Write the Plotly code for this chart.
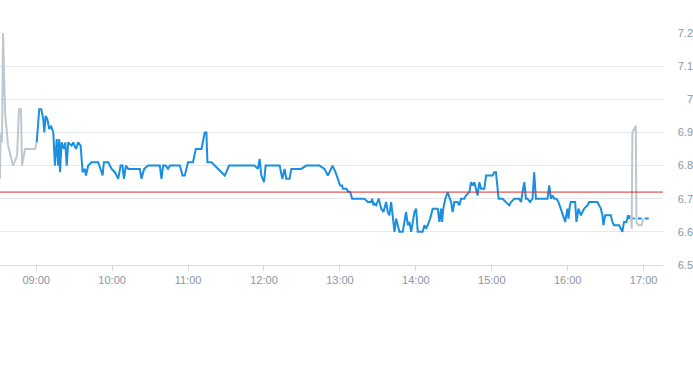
import pandas as pd
import plotly.graph_objects as go

DAY = "2024-01-02"
OPEN = pd.Timestamp(f"{DAY} 09:00")

# minutes relative to 09:00 and prices
pre_minutes = [-28.6, -28.2, -27.4, -27.0, -26.2, -24.6, -22.2, -20.7, -18.3, -15.1,
               -13.6, -12.0, -11.2, -8.8, -0.9, 0.4]
pre_prices = [6.76, 6.88, 6.90, 6.87, 7.20, 6.96, 6.86, 6.84, 6.80, 6.83,
              6.97, 6.97, 6.80, 6.85, 6.85, 6.87]

main_minutes = [
    0.4, 2.4, 4.0, 5.6, 6.4, 7.5, 8.8, 10.3, 11.7, 13.5, 14.8, 16.2, 17.4, 18.2, 18.8,
    20.1, 21.9, 23.0, 24.1, 25.3, 28.0, 29.3, 31.4, 33.2, 35.1, 36.7, 38.5, 39.3, 41.1,
    43.8, 46.4, 49.0, 52.5, 53.5, 56.9, 59.6, 62.2, 64.8, 66.7, 68.2, 69.3, 70.9, 72.7,
    81.9, 83.2, 85.3, 88.4, 97.7, 99.0, 100.3, 102.4, 104.2, 105.6, 113.5, 115.6, 117.4,
    120.0, 123.9, 126.1, 130.6, 133.2, 134.5, 135.3, 138.5, 141.1, 143.7, 146.4, 149.0,
    150.3, 152.4, 172.6, 175.2, 176.6, 177.9, 180.0, 181.3, 192.4, 194.5, 196.3, 197.6,
    200.2, 201.6, 209.5, 213.4, 223.9, 227.8, 230.5, 233.1, 234.2, 236.5, 238.4, 240.2,
    241.8, 242.3, 245.0, 247.0, 248.1, 249.7, 256.8, 259.4, 262.0, 264.7, 265.5, 266.5,
    267.3, 268.6, 270.7, 272.6, 274.4, 276.5, 277.8, 279.1, 280.5, 281.7, 283.1, 284.4,
    285.7, 287.0, 289.6, 291.0, 292.3, 293.6, 294.9, 296.3, 298.9, 300.2, 301.5, 305.4,
    306.8, 308.1, 309.4, 311.3, 313.3, 317.3, 318.6, 319.9, 320.7, 321.7, 323.3, 325.1,
    326.5, 327.8, 329.1, 330.4, 333.0, 334.4, 335.7, 338.3, 339.7, 342.3, 343.6, 344.9,
    346.2, 347.6, 348.8, 350.2, 351.5, 354.1, 355.5, 360.7, 362.0, 363.3, 365.4, 368.5,
    371.2, 373.8, 375.2, 377.8, 381.7, 383.1, 384.3, 385.7, 387.0, 388.3, 390.2, 392.2,
    393.5, 394.9, 404.0, 405.4, 406.7, 408.0, 409.3, 411.1, 412.7, 414.6, 416.4, 418.0,
    419.8, 420.6, 421.7, 422.5, 425.9, 426.9, 428.5, 430.4, 433.0, 435.6, 436.9, 443.5,
    446.2, 447.4, 448.2, 449.6, 454.1, 455.3, 456.6, 460.6, 461.9, 463.2, 464.5, 466.4,
    467.7, 468.5, 469.8]
main_prices = [
    6.87, 6.97, 6.97, 6.94, 6.90, 6.95, 6.94, 6.91, 6.92, 6.90, 6.80, 6.88, 6.80, 6.88, 6.78,
    6.87, 6.85, 6.87, 6.80, 6.87, 6.86, 6.87, 6.85, 6.87, 6.86, 6.78, 6.79, 6.77, 6.80,
    6.81, 6.81, 6.81, 6.77, 6.81, 6.81, 6.79, 6.78, 6.76, 6.80, 6.80, 6.76, 6.80, 6.79,
    6.79, 6.76, 6.79, 6.80, 6.80, 6.76, 6.80, 6.80, 6.79, 6.80, 6.80, 6.77, 6.77,
    6.81, 6.81, 6.85, 6.85, 6.90, 6.90, 6.81, 6.81, 6.80, 6.79, 6.78, 6.77,
    6.78, 6.80, 6.80, 6.79, 6.82, 6.77, 6.75, 6.80, 6.80, 6.76, 6.79, 6.76,
    6.76, 6.79, 6.79, 6.80, 6.80, 6.79, 6.77, 6.79, 6.80, 6.78, 6.76, 6.74,
    6.74, 6.73, 6.73, 6.72, 6.72, 6.70, 6.70, 6.70, 6.69, 6.69, 6.70, 6.68,
    6.685, 6.68, 6.70, 6.67, 6.66, 6.69, 6.66, 6.65, 6.69, 6.64, 6.60, 6.64,
    6.62, 6.60, 6.60, 6.64, 6.66, 6.62, 6.63, 6.60, 6.66, 6.67, 6.60, 6.60,
    6.62, 6.61, 6.62, 6.64, 6.67, 6.67, 6.63, 6.67, 6.63, 6.67, 6.70, 6.72,
    6.70, 6.69, 6.66, 6.69, 6.69, 6.68, 6.70, 6.70, 6.71, 6.72, 6.75, 6.74,
    6.75, 6.73, 6.71, 6.75, 6.73, 6.73, 6.77, 6.77, 6.78, 6.78, 6.70, 6.70,
    6.69, 6.68, 6.69, 6.70, 6.70, 6.69, 6.72, 6.75, 6.70, 6.70, 6.69, 6.70,
    6.78, 6.70, 6.70, 6.74, 6.70, 6.71, 6.70, 6.70, 6.69, 6.67, 6.65, 6.63,
    6.67, 6.64, 6.68, 6.69, 6.69, 6.63, 6.67, 6.65, 6.67, 6.68, 6.69, 6.69,
    6.67, 6.65, 6.62, 6.65, 6.65, 6.63, 6.62, 6.62, 6.61, 6.60, 6.63, 6.63,
    6.65, 6.64, 6.65]

after_minutes = [469.8, 485.6]
after_prices = [6.64, 6.64]

post_minutes = [469.8, 470.6, 471.1, 473.2, 473.8, 474.3, 475.8, 478.5, 479.6]
post_prices = [6.65, 6.61, 6.90, 6.92, 6.92, 6.63, 6.62, 6.62, 6.64]

prev_close = 6.72
y_ticks = [6.5, 6.6, 6.7, 6.8, 6.9, 7.0, 7.1, 7.2]
y_tick_text = ["6.5", "6.6", "6.7", "6.8", "6.9", "7", "7.1", "7.2"]
x_range_minutes = [-28.6, 495.3]


def to_time(mins):
    return [OPEN + pd.Timedelta(minutes=m) for m in mins]


BLUE = "#1a8fe0"
GRAY = "#bfc7ce"

fig = go.Figure()
fig.add_trace(go.Scatter(x=to_time(pre_minutes), y=pre_prices, mode="lines",
                         line=dict(color=GRAY, width=2), hoverinfo="skip"))
fig.add_trace(go.Scatter(x=to_time(main_minutes), y=main_prices, mode="lines",
                         line=dict(color=BLUE, width=2)))
fig.add_trace(go.Scatter(x=to_time(after_minutes), y=after_prices, mode="lines",
                         line=dict(color=BLUE, width=2, dash="4px,3px")))
fig.add_trace(go.Scatter(x=to_time(post_minutes), y=post_prices, mode="lines",
                         line=dict(color=GRAY, width=2), hoverinfo="skip"))

fig.add_shape(type="line", xref="x domain", yref="y", x0=0, x1=1,
              y0=prev_close, y1=prev_close, line=dict(color="#d3302a", width=1))

fig.update_layout(
    width=693, height=365,
    margin=dict(l=0, r=0, t=33, b=100),
    paper_bgcolor="white", plot_bgcolor="white",
    showlegend=False,
    font=dict(family="Liberation Sans, Arial, sans-serif", size=11, color="#8b96a2"),
    xaxis=dict(
        domain=[0, 663 / 693],
        range=to_time(x_range_minutes),
        type="date", automargin=False,
        tick0=f"{DAY} 09:00", dtick=3600000, tickformat="%H:%M",
        showgrid=False, zeroline=False,
        showline=True, linecolor="#d6dbe0", linewidth=1,
        ticks="outside", ticklen=5, tickcolor="#d6dbe0",
        tickfont=dict(size=11, color="#8b96a2"),
    ),
    yaxis=dict(
        range=[6.5, 7.2], automargin=False,
        tickvals=y_ticks, ticktext=y_tick_text,
        side="left", anchor="free", position=1.0,
        showgrid=True, gridcolor="#e6e9ec", gridwidth=1,
        zeroline=False, showline=False, ticks="",
        tickfont=dict(size=11, color="#8b96a2"),
    ),
)

fig.write_html("out.html", config={"displayModeBar": False},
               post_script="document.body.style.margin='0';document.body.style.overflow='hidden';")
